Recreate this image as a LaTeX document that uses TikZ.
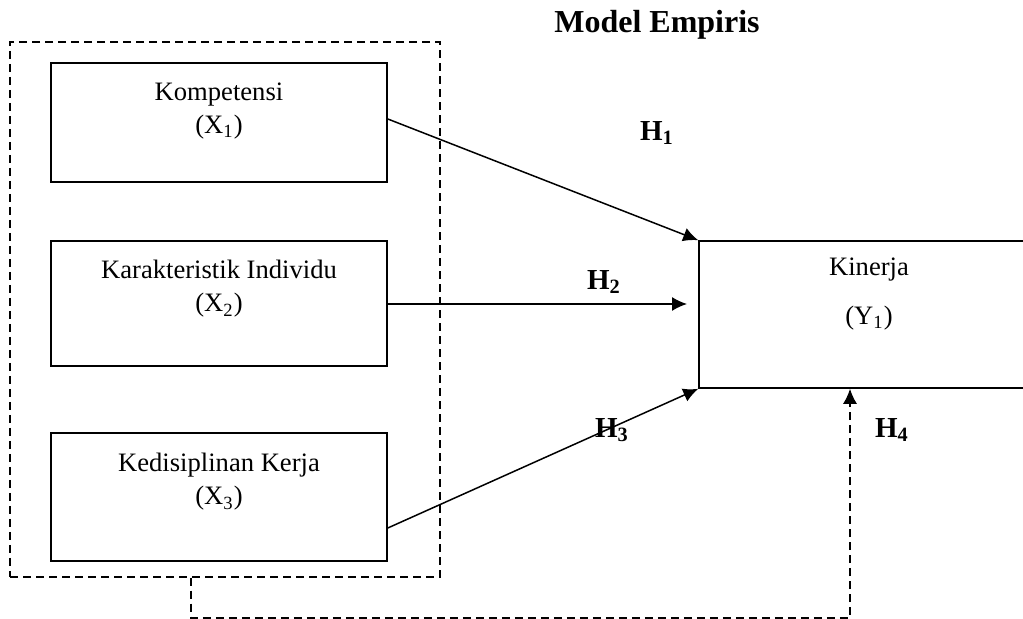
\documentclass[tikz,border=0pt]{standalone}
\usepackage{fontspec}
\setmainfont{Liberation Serif}
\usetikzlibrary{arrows.meta,calc}
\tikzset{
  boxnode/.style={draw, line width=0.8pt, inner sep=0pt},
  grpbox/.style={draw, dashed, dash pattern=on 4pt off 2.5pt, line width=0.75pt, inner sep=0pt},
  txt/.style={align=center, font=\fontsize{13.3}{16.5}\selectfont, inner sep=0pt},
  hlab/.style={font=\fontsize{14.5}{16}\selectfont\bfseries, inner sep=0pt},
  conn/.style={line width=0.75pt, -{Latex[length=7.5pt,width=7pt]}},
  dconn/.style={line width=0.75pt, dash pattern=on 4pt off 2.5pt, -{Latex[length=7.5pt,width=7pt]}}
}
\begin{document}
\begin{tikzpicture}[x=0.5pt,y=-0.5pt]
\useasboundingbox (0,0) rectangle (1023,619);
\clip (0,0) rectangle (1023,619);
\node[hlab, font=\fontsize{16}{18}\selectfont\bfseries, anchor=base] (title) at (657,33) {Model Empiris};
\node[grpbox, minimum width=215pt, minimum height=267.5pt] (grp) at (225,309.5) {};
\node[boxnode, minimum width=168pt, minimum height=59.5pt] (x1) at (219,122.5) {};
\node[boxnode, minimum width=168pt, minimum height=62.5pt] (x2) at (219,303.5) {};
\node[boxnode, minimum width=168pt, minimum height=64pt] (x3) at (219,497) {};
\node[boxnode, minimum width=170pt, minimum height=73.5pt] (y1) at (869,314.5) {};
\node[txt] (x1t) at (219,111) {Kompetensi\\(X\textsubscript{1})};
\node[txt] (x2t) at (219,289) {Karakteristik Individu\\(X\textsubscript{2})};
\node[txt] (x3t) at (219,482) {Kedisiplinan Kerja\\(X\textsubscript{3})};
\node[txt, font=\fontsize{13.3}{24.5}\selectfont] (y1t) at (869,294) {Kinerja\\(Y\textsubscript{1})};
\coordinate (a2) at (687,304);
\coordinate (h4b) at (191,618);
\coordinate (h4c) at (850,618);
\draw[conn] ($(x1.east)+(0,-3.5)$) -- (y1.north west);
\draw[conn] (x2.east |- a2) -- (a2);
\draw[conn] ($(x3.east)+(0,31)$) -- (y1.south west);
\draw[dconn] (grp.south -| h4b) -- (h4b) -- (h4c) -- (y1.south -| h4c);
\node[hlab] (h1) at (657,133) {H\textsubscript{1}};
\node[hlab] (h2) at (604,282) {H\textsubscript{2}};
\node[hlab] (h3) at (612,430) {H\textsubscript{3}};
\node[hlab] (h4) at (892,430) {H\textsubscript{4}};
\end{tikzpicture}
\end{document}
